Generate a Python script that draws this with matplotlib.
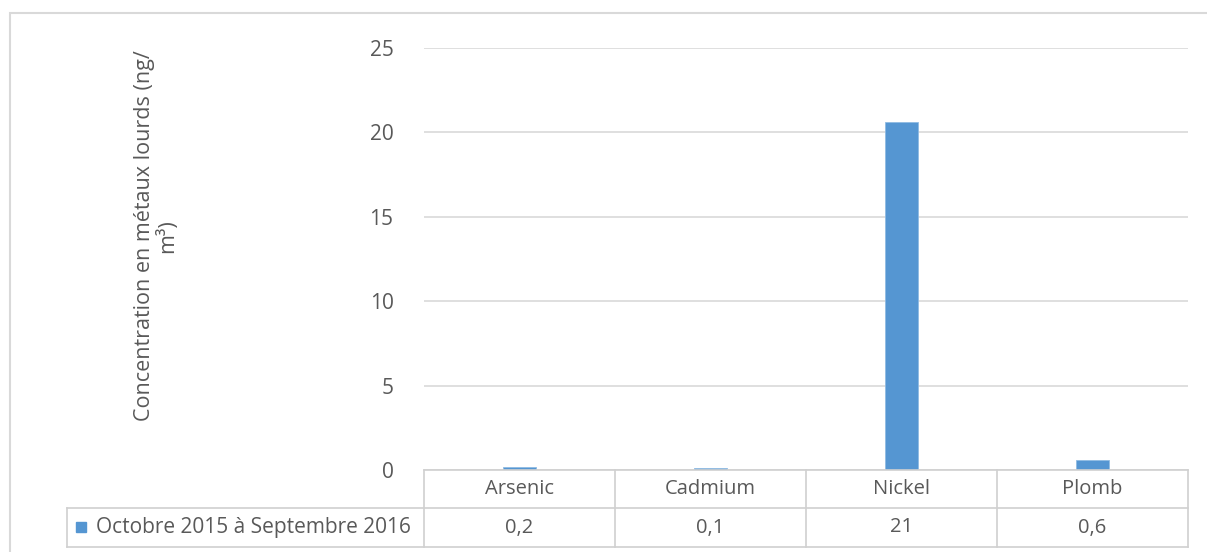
import matplotlib.pyplot as plt
from matplotlib.patches import Rectangle
from matplotlib.lines import Line2D

categories = ['Arsenic', 'Cadmium', 'Nickel', 'Plomb']
values = [0.2, 0.1, 20.6, 0.6]
value_labels = ['0,2', '0,1', '21', '0,6']
series_name = 'Octobre 2015 à Septembre 2016'
y_ticks = [0, 5, 10, 15, 20, 25]

W, H = 1207, 552
bar_color = '#5596d2'
grid_color = '#d9d9d9'
text_color = '#595959'
plt.rcParams['font.family'] = ['Open Sans', 'DejaVu Sans']

fig = plt.figure(figsize=(W / 100, H / 100), dpi=100)

# zone du graphique en pixels
x0, x1, y_top, y_zero = 424, 1188, 48, 470
ax = fig.add_axes([x0 / W, (H - y_zero) / H, (x1 - x0) / W, (y_zero - y_top) / H])

x = range(len(categories))
ax.bar(x, values, width=0.17, color=bar_color, edgecolor='#8fbbe3', linewidth=0.6, zorder=3)
ax.set_xlim(-0.5, len(categories) - 0.5)
ax.set_ylim(0, 25)
ax.set_yticks(y_ticks)
ax.set_yticklabels([str(t) for t in y_ticks], fontsize=15, color=text_color)
ax.tick_params(axis='y', length=0, pad=22)
ax.tick_params(axis='x', length=0, labelbottom=False)
ax.yaxis.grid(True, color=grid_color, linewidth=1.2, zorder=0)
for s in ax.spines.values():
    s.set_visible(False)

# cadre extérieur
fig.patches.append(Rectangle((10 / W, -0.01), (W - 8) / W, (H - 13) / H + 0.01,
                             transform=fig.transFigure, fill=False,
                             edgecolor=grid_color, linewidth=1.5))

# tableau de données sous l'axe
def fx(px):
    return px / W

def fy(py):
    return (H - py) / H

row1, row2, row3 = 470, 508, 547
leg_left = 67
col_w = (x1 - x0) / len(categories)
lc = '#d0d0d0'
lines = [
    ([x0, x1], [row1, row1]),
    ([leg_left, x1], [row2, row2]),
    ([leg_left, x1], [row3, row3]),
    ([leg_left, leg_left], [row2, row3]),
]
for i in range(len(categories) + 1):
    xp = x0 + i * col_w
    lines.append(([xp, xp], [row1, row3]))
for xs, ys in lines:
    fig.lines.append(Line2D([fx(v) for v in xs], [fy(v) for v in ys],
                            transform=fig.transFigure, color=lc, linewidth=1.2))

for i, (cat, lab) in enumerate(zip(categories, value_labels)):
    cx = x0 + (i + 0.5) * col_w
    fig.text(fx(cx), fy((row1 + row2) / 2), cat, ha='center', va='center',
             fontsize=14.5, color=text_color)
    fig.text(fx(cx), fy((row2 + row3) / 2), lab, ha='center', va='center',
             fontsize=14.5, color=text_color)

fig.patches.append(Rectangle((fx(76), fy(532)), 10 / W, 10 / H,
                             transform=fig.transFigure, color=bar_color))
fig.text(fx(96), fy((row2 + row3) / 2), series_name, ha='left', va='center',
         fontsize=15, color=text_color)

fig.text(fx(156), fy(236), 'Concentration en métaux lourds (ng/\nm³)',
         rotation=90, ha='center', va='center', multialignment='center',
         fontsize=15.5, color=text_color, linespacing=1.05)

fig.savefig('out.png', dpi=100)
